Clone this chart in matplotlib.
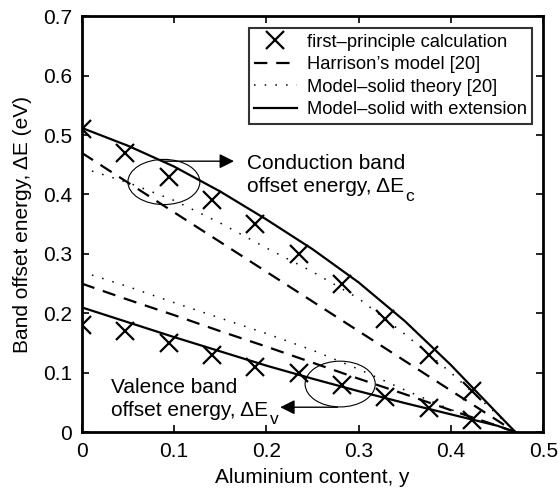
import numpy as np
import matplotlib
matplotlib.use("Agg")
import matplotlib.pyplot as plt
from matplotlib.patches import Ellipse

plt.rcParams['font.family'] = ['Liberation Sans', 'DejaVu Sans']

# first-principle calculation points
y_fp = [0.0, 0.047, 0.094, 0.141, 0.188, 0.235, 0.282, 0.329, 0.376, 0.423]
dEc_fp = [0.51, 0.47, 0.43, 0.39, 0.35, 0.30, 0.25, 0.19, 0.13, 0.07]
dEv_fp = [0.18, 0.17, 0.15, 0.13, 0.11, 0.10, 0.08, 0.06, 0.04, 0.02]

# model curves
y_line = [0.0, 0.05, 0.10, 0.15, 0.20, 0.25, 0.30, 0.35, 0.40, 0.45, 0.47]
dEc_harrison = [0.47, 0.42, 0.37, 0.32, 0.27, 0.22, 0.17, 0.12, 0.07, 0.02, 0.0]
dEv_harrison = [0.25, 0.223, 0.197, 0.170, 0.144, 0.117, 0.090, 0.064, 0.037, 0.011, 0.0]
dEc_msolid = [0.445, 0.42, 0.39, 0.352, 0.31, 0.27, 0.225, 0.165, 0.10, 0.03, 0.0]
dEv_msolid = [0.27, 0.245, 0.218, 0.192, 0.166, 0.138, 0.106, 0.071, 0.038, 0.010, 0.0]
dEc_ext = [0.512, 0.482, 0.447, 0.405, 0.358, 0.308, 0.252, 0.187, 0.113, 0.032, 0.0]
dEv_ext = [0.21, 0.185, 0.16, 0.136, 0.112, 0.090, 0.069, 0.049, 0.030, 0.011, 0.0]

fig = plt.figure(figsize=(5.6, 4.9), dpi=100)
ax = fig.add_axes([0.146, 0.118, 0.824, 0.849])

mk = dict(marker='x', markersize=13, markeredgewidth=1.6, color='black', linestyle='none')
dash = dict(color='black', lw=1.6, linestyle=(0, (6, 4)))
dot = dict(color='black', lw=1.1, linestyle=(0, (1, 6)))
sol = dict(color='black', lw=1.6, linestyle='-')

h1, = ax.plot(y_fp, dEc_fp, **mk)
ax.plot(y_fp, dEv_fp, **mk)
h2, = ax.plot(y_line, dEc_harrison, **dash)
ax.plot(y_line, dEv_harrison, **dash)
h3, = ax.plot(y_line, dEc_msolid, **dot)
ax.plot(y_line, dEv_msolid, **dot)
h4, = ax.plot(y_line, dEc_ext, **sol)
ax.plot(y_line, dEv_ext, **sol)

ax.set_xlim(0, 0.5)
ax.set_ylim(0, 0.7)
ax.set_xticks([0, 0.1, 0.2, 0.3, 0.4, 0.5])
ax.set_xticklabels(['0', '0.1', '0.2', '0.3', '0.4', '0.5'])
ax.set_yticks([0, 0.1, 0.2, 0.3, 0.4, 0.5, 0.6, 0.7])
ax.set_yticklabels(['0', '0.1', '0.2', '0.3', '0.4', '0.5', '0.6', '0.7'])
ax.tick_params(direction='in', top=True, right=True, length=5, width=1.2,
               labelsize=15, pad=7)
for s in ax.spines.values():
    s.set_linewidth(2.0)

ax.set_xlabel('Aluminium content, y', fontsize=15, labelpad=5)
ax.set_ylabel('Band offset energy, ΔE (eV)', fontsize=15, labelpad=8)

leg = ax.legend([h1, h2, h3, h4],
                ['first\u2013principle calculation', 'Harrison\u2019s model [20]',
                 'Model\u2013solid theory [20]', 'Model\u2013solid with extension'],
                loc='upper right', bbox_to_anchor=(0.976, 0.971), borderaxespad=0,
                fontsize=13.2, frameon=True, fancybox=False, edgecolor='black',
                handlelength=2.3, handletextpad=0.55, borderpad=0.3, labelspacing=0.3)
leg.get_frame().set_linewidth(1.5)

# annotations: conduction band
ax.add_patch(Ellipse((0.089, 0.421), 0.078, 0.076, fill=False, lw=0.8, color='black'))
ax.annotate('', xy=(0.168, 0.456), xytext=(0.085, 0.456),
            arrowprops=dict(arrowstyle='-|>', color='black', lw=1.0,
                            mutation_scale=22))
ax.text(0.179, 0.452, 'Conduction band', fontsize=15, va='center', ha='left')
tc = ax.text(0.179, 0.413, 'offset energy, ΔE', fontsize=15, va='center', ha='left')
ax.annotate('c', xy=(1.0, 0.0), xycoords=tc, xytext=(1, 0), textcoords='offset points',
            fontsize=12.5, va='center', ha='left')

# annotations: valence band
ax.add_patch(Ellipse((0.28, 0.081), 0.076, 0.077, fill=False, lw=0.8, color='black'))
ax.annotate('', xy=(0.212, 0.042), xytext=(0.28, 0.042),
            arrowprops=dict(arrowstyle='-|>', color='black', lw=1.0,
                            mutation_scale=22))
ax.text(0.032, 0.075, 'Valence band', fontsize=15, va='center', ha='left')
tv = ax.text(0.032, 0.037, 'offset energy, ΔE', fontsize=15, va='center', ha='left')
ax.annotate('v', xy=(1.0, 0.0), xycoords=tv, xytext=(1, 0), textcoords='offset points',
            fontsize=12.5, va='center', ha='left')

fig.savefig('out.png', dpi=100)
